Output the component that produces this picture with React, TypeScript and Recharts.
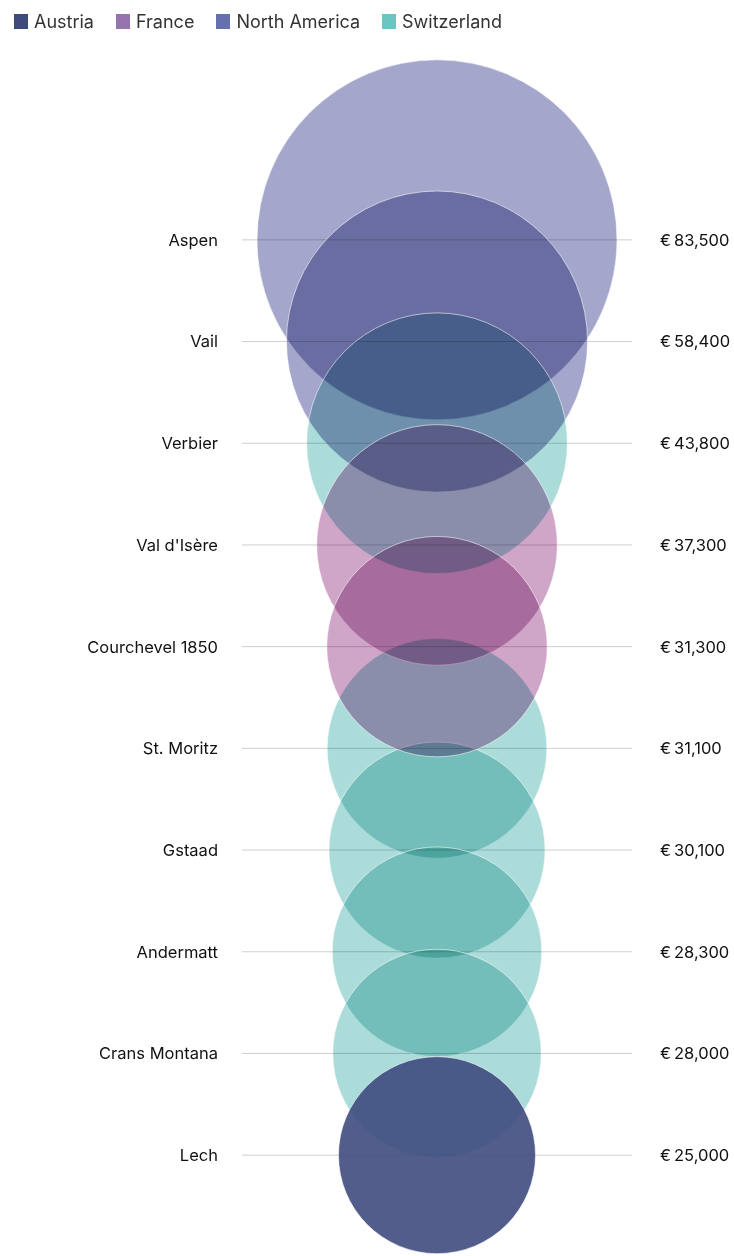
import { ReferenceLine, Scatter, ScatterChart, XAxis, YAxis, ZAxis } from 'recharts';

const resorts = ['Aspen', 'Vail', 'Verbier', "Val d'Isère", 'Courchevel 1850', 'St. Moritz', 'Gstaad', 'Andermatt', 'Crans Montana', 'Lech'];
const prices = [83500, 58400, 43800, 37300, 31300, 31100, 30100, 28300, 28000, 25000];
const resortRegion = ['North America', 'North America', 'Switzerland', 'France', 'France', 'Switzerland', 'Switzerland', 'Switzerland', 'Switzerland', 'Austria'];

const regions = ['Austria', 'France', 'North America', 'Switzerland'];
const legendColors = ['#3f4a7d', '#9474ab', '#6670ae', '#6cc5c0'];
const bubbleColors = ['#3f4b7e', '#cfa5c8', '#a4a7cb', '#abdcda'];
// Austria is painted last and normally, the rest multiply into each other
const drawOrder = ['North America', 'Switzerland', 'France', 'Austria'];

const rows = resorts.map((name, i) => ({ name, row: i, x: 0.5, value: prices[i], region: resortRegion[i] }));
const rowTicks = resorts.map((_, i) => i);
const maxRadius = 180;

const formatPrice = (v: number) => `€\u2009${prices[v].toLocaleString('en-US')}`;

const makeBubble = (fill: string, multiply: boolean) => (props: any) => {
  const { cx, cy } = props;
  const r = props.width ? props.width / 2 : Math.sqrt(props.size / Math.PI);
  return (
    <g>
      <circle
        cx={cx}
        cy={cy}
        r={r}
        fill={fill}
        fillOpacity={multiply ? 1 : 0.9}
        style={multiply ? { mixBlendMode: 'multiply' } : undefined}
      />
      <circle cx={cx} cy={cy} r={r} fill="none" stroke="#fff" strokeOpacity={0.55} strokeWidth={1} />
    </g>
  );
};

const tickStyle = { fill: '#111', fontSize: 16.5, fontFamily: 'Inter' };

function ChartLegend() {
  return (
    <div style={{ position: 'absolute', left: 14, top: 11, display: 'flex', gap: 22, fontFamily: 'Inter', fontSize: 18, color: '#333' }}>
      {regions.map((r, i) => (
        <div key={r} style={{ display: 'flex', alignItems: 'center', gap: 6 }}>
          <span style={{ width: 14, height: 15, background: legendColors[i], display: 'inline-block' }} />
          <span>{r}</span>
        </div>
      ))}
    </div>
  );
}

export default function App() {
  return (
    <div style={{ position: 'absolute', left: 0, top: 0, width: 734, height: 1256, background: '#fff' }}>
      <ChartLegend />
      <ScatterChart width={734} height={1256} margin={{ top: 189, right: 0, bottom: 50, left: 0 }}>
        <XAxis type="number" dataKey="x" domain={[0, 1]} hide />
        <YAxis
          yAxisId="left"
          type="number"
          dataKey="row"
          domain={[-0.5, 9.5]}
          ticks={rowTicks}
          interval={0}
          reversed
          width={242}
          axisLine={false}
          tickLine={false}
          tickSize={0}
          tickMargin={24}
          tick={tickStyle}
          tickFormatter={(v: number) => resorts[v]}
        />
        <YAxis
          yAxisId="right"
          orientation="right"
          type="number"
          dataKey="row"
          domain={[-0.5, 9.5]}
          ticks={rowTicks}
          interval={0}
          reversed
          width={102}
          axisLine={false}
          tickLine={false}
          tickSize={0}
          tickMargin={28}
          tick={{ ...tickStyle, textAnchor: 'start' }}
          tickFormatter={formatPrice}
        />
        <ZAxis type="number" dataKey="value" domain={[0, prices[0]]} range={[0, Math.PI * maxRadius * maxRadius]} />
        {rowTicks.map((i) => (
          <ReferenceLine key={i} yAxisId="left" y={i} stroke="#cfcfcf" strokeWidth={1} />
        ))}
        <Scatter
          yAxisId="right"
          data={rows}
          shape={() => <g />}
          legendType="none"
          isAnimationActive={false}
        />
        {drawOrder.map((region) => {
          const idx = regions.indexOf(region);
          return (
            <Scatter
              key={region}
              name={region}
              yAxisId="left"
              data={rows.filter((d) => d.region === region)}
              fill={legendColors[idx]}
              shape={makeBubble(bubbleColors[idx], region !== 'Austria')}
              isAnimationActive={false}
            />
          );
        })}
      </ScatterChart>
    </div>
  );
}
